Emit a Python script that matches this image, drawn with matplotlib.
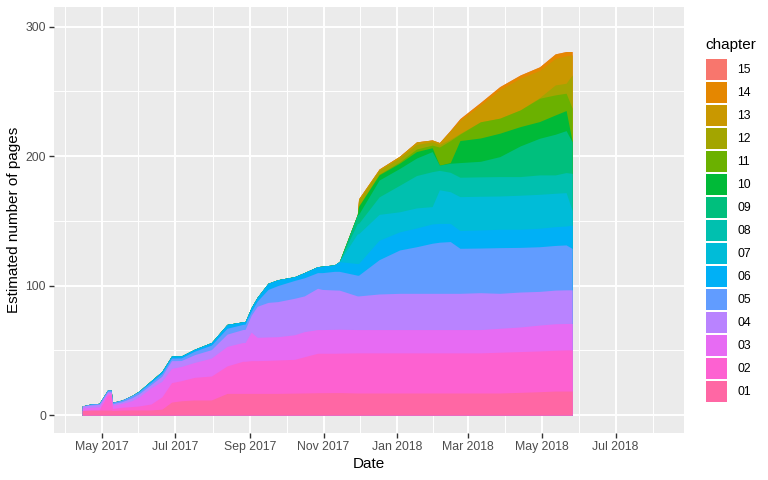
import datetime as dt
import matplotlib
matplotlib.use("Agg")
import matplotlib.pyplot as plt
import matplotlib.dates as mdates
from matplotlib.patches import Rectangle
import numpy as np

plt.rcParams['font.family'] = ['Liberation Sans', 'DejaVu Sans']

dates = ["2017-04-15", "2017-04-22", "2017-04-29", "2017-05-06", "2017-05-09", "2017-05-10",
         "2017-05-18", "2017-05-26", "2017-06-01", "2017-06-11", "2017-06-20", "2017-06-28",
         "2017-07-06", "2017-07-17", "2017-07-31", "2017-08-13", "2017-08-26", "2017-08-28",
         "2017-09-02", "2017-09-07", "2017-09-16", "2017-09-24", "2017-10-08", "2017-10-16",
         "2017-10-27", "2017-10-31", "2017-11-10", "2017-11-14", "2017-11-29", "2017-11-30",
         "2017-12-17", "2018-01-03", "2018-01-17", "2018-01-30", "2018-02-05", "2018-02-14",
         "2018-02-22", "2018-03-11", "2018-03-27", "2018-04-13", "2018-04-29", "2018-05-12",
         "2018-05-21", "2018-05-26"]

ch01 = [3.5, 3.8, 3.8, 3.8, 3.8, 3.5, 3.8, 3.9, 3.9, 3.9, 4.5,
        10, 11, 11.6, 11.6, 16.7, 16.7, 16.7, 16.7, 16.7, 16.7, 16.7,
        16.9, 17, 17.2, 17.2, 17.3, 17.3, 17, 17,
        17, 17, 17, 17, 17, 17, 17, 17, 17, 17.5, 18, 18.5, 18.5, 18.5]
ch02 = [0, 0, 0.2, 11.7, 11.7, 1.5, 2.2, 2.6, 3.1, 4.6, 9.5,
        15, 15.5, 17.5, 18.5, 21.2, 24.8, 24.8, 25.3, 25.3, 25.5, 25.8,
        26.1, 28, 30.5, 30.5, 30.4, 30.5, 31, 31,
        31, 31, 31, 31, 31, 31, 31, 31, 31.5, 31.5, 31.5, 31.5, 31.8, 31.8]
ch03 = [2, 2.2, 2.3, 1.5, 1.5, 2.5, 3, 4.5, 7, 12.5, 12,
        11, 11, 11.5, 13.9, 15.1, 14.5, 14.5, 22, 18, 18.1, 18,
        19, 19.4, 18.3, 18.3, 18.5, 18.5, 18, 18,
        18, 18, 18, 18, 18, 18, 18, 18, 18.5, 19, 20, 20.5, 20.4, 20.4]
ch04 = [1.5, 1.8, 1.9, 1, 1, 1.2, 1.3, 2.2, 2.3, 2.5, 4,
        6, 4.6, 6, 6.5, 9.5, 10, 10.2, 13, 24, 26.7, 27.1,
        28.2, 27.6, 31.9, 31, 30.4, 30.2, 26, 26,
        27.5, 28, 28, 28, 28, 28, 28, 28.5, 27, 27, 26, 26, 26, 26]
ch05 = [0, 0.7, 0.8, 1.3, 1.3, 1.1, 1.3, 1.8, 1.7, 1.8, 2.2,
        2, 2, 2.7, 3.5, 4.5, 4, 4, 3, 4, 10, 12.4,
        13.8, 14, 12.1, 13, 14.4, 14.5, 16, 16,
        26.5, 33.5, 36, 38.7, 39.5, 40, 34.8, 34.5, 35.3, 34.5, 34.5, 34.5, 34.7, 32]
ch06 = [0, 0, 0, 0, 0, 0, 0, 0, 0.5, 1.2, 1.5,
        1.6, 1.5, 1.5, 2, 3, 2, 2, 3, 3, 4.8, 4.5,
        2.9, 4, 4.6, 5, 5, 7.5, 9, 9,
        15, 14, 14.5, 14.9, 14.5, 14, 13.7, 14, 14.2, 14, 14.3, 14.5, 14.6, 18]
ch07 = [0] * 28 + [23, 23,
        20, 15.5, 15.5, 13.4, 26, 24.5, 26.2, 26, 25.7, 26.3, 26.2, 25.8, 25.8, 11.3]
ch08 = [0] * 28 + [8, 8,
        13.5, 20.5, 25, 27, 15, 15, 15, 15, 15, 14.4, 15, 14.2, 15.5, 28.7]
ch09 = [0] * 28 + [7, 7,
        13, 13, 13.5, 15.5, 4, 7, 11.3, 12, 15.4, 23.7, 28.3, 31.4, 32.4, 24.3]
ch10 = [0] * 29 + [6,
        4, 4, 5, 3, 0, 0.5, 17, 18, 18.1, 14.9, 12.9, 14.9, 15.5, 0.3]
ch11 = [0] * 29 + [0.5,
        0.5, 1, 2, 2, 14, 17, 5, 12.5, 11.6, 12.9, 18, 15.5, 13.4, 25.7]
ch12 = [0] * 29 + [4,
        3, 3, 3.5, 2.5, 2, 1, 0.5, 0, 0, 0, 0.5, 7.7, 7.7, 25.7]
ch13 = [0] * 29 + [1.5,
        1, 1.5, 2, 1.5, 1.5, 6.5, 10, 13, 22, 24.5, 21, 20.5, 21.2, 15.5]
ch14 = [0] * 35 + [0.5, 1.5, 2, 2.4, 2.5, 2.8, 3.5, 3.3, 2.6]
ch15 = [0] * 44

chapters = ["01", "02", "03", "04", "05", "06", "07", "08", "09", "10",
            "11", "12", "13", "14", "15"]
series = [ch01, ch02, ch03, ch04, ch05, ch06, ch07, ch08, ch09, ch10,
          ch11, ch12, ch13, ch14, ch15]
colors = ["#FF67A4", "#FD61D1", "#E76BF3", "#B983FF", "#619CFF", "#00B0F6",
          "#00BCD8", "#00C0AF", "#00BF7D", "#00BA38", "#6BB100", "#A3A500",
          "#C99800", "#E58700", "#F8766D"]

x = mdates.datestr2num(dates)
cum = np.cumsum(np.array(series, dtype=float), axis=0)

W, H = 768, 480
fig = plt.figure(figsize=(W / 100, H / 100), dpi=100)
fig.patch.set_facecolor("white")
L, R, T, B = 54, 684, 7, 433
ax = fig.add_axes([L / W, 1 - B / H, (R - L) / W, (B - T) / H])
ax.set_facecolor("#EBEBEB")
for s in ax.spines.values():
    s.set_visible(False)

for k in range(len(series) - 1, -1, -1):
    ax.fill_between(x, 0, cum[k], color=colors[k], linewidth=0, zorder=2)

base = mdates.date2num(dt.datetime(2017, 5, 1))
ax.set_xlim(base - 39.4, base + 482.7)
ax.set_ylim(-13.9, 315.2)

major_dates = [dt.datetime(2017, 3, 1), dt.datetime(2017, 5, 1), dt.datetime(2017, 7, 1),
               dt.datetime(2017, 9, 1), dt.datetime(2017, 11, 1), dt.datetime(2018, 1, 1),
               dt.datetime(2018, 3, 1), dt.datetime(2018, 5, 1), dt.datetime(2018, 7, 1),
               dt.datetime(2018, 9, 1)]
mj = mdates.date2num(major_dates)
minor = (mj[:-1] + mj[1:]) / 2
shown = mj[1:-1]
ax.set_xticks(shown)
ax.set_xticklabels([d.strftime("%b %Y") for d in major_dates[1:-1]])
ax.set_xticks(minor, minor=True)
ax.set_yticks([0, 100, 200, 300])
ax.set_yticks([50, 150, 250], minor=True)

ax.grid(which="major", color="white", linewidth=1.4, zorder=1)
ax.grid(which="minor", color="white", linewidth=0.7, zorder=1)
ax.set_axisbelow(True)
ax.tick_params(which="major", length=3.3, width=1.0, color="#333333",
               labelsize=8.8, labelcolor="#4D4D4D", pad=2.5)
ax.tick_params(which="minor", length=0)

ax.set_xlabel("Date", fontsize=11, color="black", labelpad=3)
ax.set_ylabel("Estimated number of pages", fontsize=11, color="black", labelpad=3)

# legend
def fx(px):
    return px / W

def fy(py):
    return 1 - py / H

fig.text(fx(705), fy(45), "chapter", fontsize=11, va="center", ha="left")
for i, k in enumerate(range(len(series) - 1, -1, -1)):
    top = 59.3 + i * 23
    fig.add_artist(Rectangle((fx(706), fy(top + 21)), 21 / W, 21 / H,
                             transform=fig.transFigure, facecolor=colors[k],
                             edgecolor="none"))
    fig.text(fx(737), fy(top + 10.5), chapters[k], fontsize=8.8, va="center", ha="left")

fig.savefig("out.png", dpi=100)
